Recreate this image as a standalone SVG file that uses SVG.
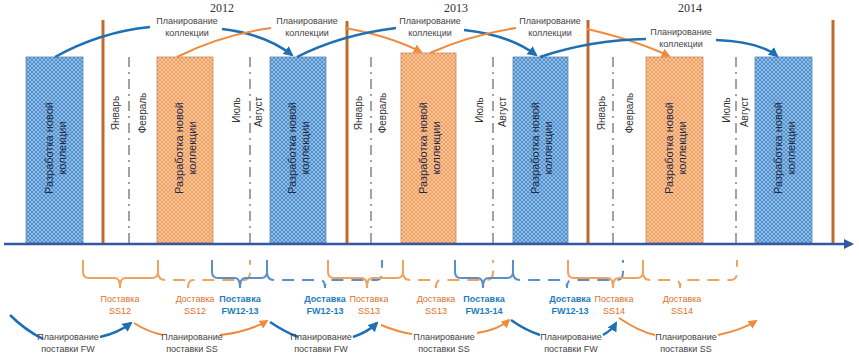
<svg xmlns="http://www.w3.org/2000/svg" width="859" height="357" viewBox="0 0 859 357">
<style>
.yr{font-family:"Liberation Serif",serif;font-size:12px;fill:#333;text-anchor:middle}
.pl{font-family:"Liberation Sans",Arial,sans-serif;font-size:9px;fill:#444;text-anchor:middle}
.mo{font-family:"Liberation Sans",Arial,sans-serif;font-size:10px;fill:#333;text-anchor:middle}
.rt{font-family:"Liberation Sans",Arial,sans-serif;font-size:11px;fill:#1c2a48;text-anchor:middle}
.lb{font-family:"Liberation Sans",Arial,sans-serif;font-size:9px;text-anchor:middle}
.ss{fill:#e0702a}
.fw{fill:#1a7cc0;font-weight:bold}
.rb{fill:url(#hb);stroke:#5f87b3;stroke-width:0.8}
.ro{fill:url(#ho);stroke:#c08a66;stroke-width:0.8}
.br{stroke:#bf6a2c;stroke-width:3;fill:none}
.dd{stroke:#444;stroke-width:1;stroke-dasharray:10 5 2 5;fill:none}
.ab{stroke:#1f6fb5;stroke-width:2.5;fill:none}
.ao{stroke:#f08a3c;stroke-width:2;fill:none}
.bo{stroke:#f0a35e;stroke-width:2;fill:none}
.bb{stroke:#5b8ec6;stroke-width:2;fill:none}
.dash{stroke-dasharray:12 8}
</style>
<defs>
<pattern id="hb" width="4" height="4" patternUnits="userSpaceOnUse"><rect width="4" height="4" fill="#8fbde6"/><path d="M0,0 L4,4 M4,0 L0,4" stroke="#4a8bc9" stroke-width="0.9"/></pattern>
<pattern id="ho" width="4" height="4" patternUnits="userSpaceOnUse"><rect width="4" height="4" fill="#fcc79b"/><path d="M0,0 L4,4 M4,0 L0,4" stroke="#f2985a" stroke-width="0.9"/></pattern>
<marker id="mb" viewBox="0 0 10 10" refX="8" refY="5" markerWidth="4" markerHeight="4" orient="auto"><path d="M0,0 L10,5 L0,10 z" fill="#1f6fb5"/></marker>
<marker id="mo" viewBox="0 0 10 10" refX="8" refY="5" markerWidth="4.5" markerHeight="4.5" orient="auto"><path d="M0,0 L10,5 L0,10 z" fill="#f08a3c"/></marker>
<marker id="ma" viewBox="0 0 10 10" refX="8" refY="5" markerWidth="4" markerHeight="4" orient="auto"><path d="M0,0 L10,5 L0,10 z" fill="#3556a3"/></marker>
</defs>
<rect width="859" height="357" fill="#ffffff"/>

<g id="years">
<text class="yr" x="222" y="12">2012</text>
<text class="yr" x="456" y="12">2013</text>
<text class="yr" x="690" y="12">2014</text>
</g>

<g id="dividers">
<line class="br" x1="103" y1="20" x2="103" y2="243"/>
<line class="br" x1="347" y1="21" x2="347" y2="243"/>
<line class="br" x1="588" y1="20" x2="588" y2="243"/>
<line class="br" x1="833" y1="20" x2="833" y2="243"/>
<line class="dd" x1="129" y1="57" x2="129" y2="243"/>
<line class="dd" x1="250" y1="57" x2="250" y2="243"/>
<line class="dd" x1="371" y1="57" x2="371" y2="243"/>
<line class="dd" x1="493" y1="57" x2="493" y2="243"/>
<line class="dd" x1="613" y1="57" x2="613" y2="243"/>
<line class="dd" x1="736" y1="57" x2="736" y2="243"/>
</g>

<g id="months">
<text class="mo" transform="translate(119,113) rotate(-90)">Январь</text>
<text class="mo" transform="translate(146,113) rotate(-90)">Февраль</text>
<text class="mo" transform="translate(240,110) rotate(-90)">Июль</text>
<text class="mo" transform="translate(262,112) rotate(-90)">Август</text>
<text class="mo" transform="translate(362,113) rotate(-90)">Январь</text>
<text class="mo" transform="translate(386,113) rotate(-90)">Февраль</text>
<text class="mo" transform="translate(483,110) rotate(-90)">Июль</text>
<text class="mo" transform="translate(506,112) rotate(-90)">Август</text>
<text class="mo" transform="translate(605,113) rotate(-90)">Январь</text>
<text class="mo" transform="translate(633,113) rotate(-90)">Февраль</text>
<text class="mo" transform="translate(730,110) rotate(-90)">Июль</text>
<text class="mo" transform="translate(748,112) rotate(-90)">Август</text>
</g>

<g id="dev1"><rect class="rb" x="26" y="57" width="57" height="186"/><text class="rt" transform="translate(54.5,148) rotate(-90)"><tspan x="0" y="-2">Разработка новой</tspan><tspan x="0" y="11">коллекции</tspan></text></g>
<g id="dev2"><rect class="ro" x="157" y="57" width="56" height="186"/><text class="rt" transform="translate(185,148) rotate(-90)"><tspan x="0" y="-2">Разработка новой</tspan><tspan x="0" y="11">коллекции</tspan></text></g>
<g id="dev3"><rect class="rb" x="270" y="57" width="56" height="186"/><text class="rt" transform="translate(298,148) rotate(-90)"><tspan x="0" y="-2">Разработка новой</tspan><tspan x="0" y="11">коллекции</tspan></text></g>
<g id="dev4"><rect class="ro" x="401" y="53" width="55" height="190"/><text class="rt" transform="translate(428.5,148) rotate(-90)"><tspan x="0" y="-2">Разработка новой</tspan><tspan x="0" y="11">коллекции</tspan></text></g>
<g id="dev5"><rect class="rb" x="513" y="57" width="55" height="186"/><text class="rt" transform="translate(540.5,148) rotate(-90)"><tspan x="0" y="-2">Разработка новой</tspan><tspan x="0" y="11">коллекции</tspan></text></g>
<g id="dev6"><rect class="ro" x="646" y="57" width="57" height="186"/><text class="rt" transform="translate(674.5,148) rotate(-90)"><tspan x="0" y="-2">Разработка новой</tspan><tspan x="0" y="11">коллекции</tspan></text></g>
<g id="dev7"><rect class="rb" x="755" y="57" width="57" height="186"/><text class="rt" transform="translate(783.5,148) rotate(-90)"><tspan x="0" y="-2">Разработка новой</tspan><tspan x="0" y="11">коллекции</tspan></text></g>

<g id="plan-labels">
<text class="pl" x="187" y="24">Планирование</text><text class="pl" x="187" y="36">коллекции</text>
<text class="pl" x="307" y="24">Планирование</text><text class="pl" x="307" y="36">коллекции</text>
<text class="pl" x="430" y="24">Планирование</text><text class="pl" x="430" y="36">коллекции</text>
<text class="pl" x="550" y="24">Планирование</text><text class="pl" x="550" y="36">коллекции</text>
<text class="pl" x="681" y="35">Планирование</text><text class="pl" x="681" y="47">коллекции</text>
</g>

<g id="connectors">
<line x1="4" y1="244" x2="852" y2="244" stroke="#3556a3" stroke-width="2.5" marker-end="url(#ma)"/>
<path class="ab" d="M55,57 Q100,32 150,27"/>
<path class="ab" d="M222,29 Q265,34 292,55" marker-end="url(#mb)"/>
<path class="ao" d="M177,57 Q220,35 271,28"/>
<path class="ao" d="M345,28 Q390,36 421,52" marker-end="url(#mo)"/>
<path class="ab" d="M297,57 Q340,35 396,28"/>
<path class="ab" d="M464,30 Q510,35 536,55" marker-end="url(#mb)"/>
<path class="ao" d="M430,53 Q470,35 516,28"/>
<path class="ao" d="M587,29 Q635,40 669,56" marker-end="url(#mo)"/>
<path class="ab" d="M540,57 Q590,40 646,39"/>
<path class="ab" d="M716,40 Q760,42 777,56" marker-end="url(#mb)"/>

<path class="bo" d="M83,260 V272 Q83,278 89,278 H115 Q120,278 120,288 Q120,278 125,278 H152 Q158,278 158,272 V260"/>
<path class="bo dash" d="M158,272 Q158,280 165,280 H183 Q188,280 188,288 Q188,280 193,280 H244 Q250,280 250,272 V260"/>
<path class="bb" d="M212,260 V272 Q212,278 218,278 H235 Q240,278 240,288 Q240,278 245,278 H261 Q267,278 267,272 V260"/>
<path class="bb dash" d="M267,272 Q267,280 274,280 H320 Q325,280 325,288 Q325,280 330,280 H376 Q382,280 382,272 V260"/>
<path class="bo" d="M328,260 V272 Q328,278 334,278 H362 Q367,278 367,288 Q367,278 372,278 H397 Q403,278 403,272 V260"/>
<path class="bo dash" d="M403,272 Q403,280 410,280 H431 Q436,280 436,288 Q436,280 441,280 H487 Q493,280 493,272 V260"/>
<path class="bb" d="M455,260 V272 Q455,278 461,278 H478 Q483,278 483,288 Q483,278 488,278 H507 Q513,278 513,272 V260"/>
<path class="bb dash" d="M513,272 Q513,280 520,280 H562 Q567,280 567,288 Q567,280 572,280 H617 Q623,280 623,272 V260"/>
<path class="bo" d="M568,260 V272 Q568,278 574,278 H608 Q613,278 613,288 Q613,278 618,278 H637 Q643,278 643,272 V260"/>
<path class="bo dash" d="M643,272 Q643,280 650,280 H675 Q680,280 680,288 Q680,280 685,280 H731 Q737,280 737,272 V260"/>

<path class="ab" d="M10,315 Q25,330 43,339"/>
<path class="ab" d="M100,337 Q118,333 131,323" marker-end="url(#mb)"/>
<path class="ao" d="M134,323 Q148,332 163,335"/>
<path class="ao" d="M220,335 Q248,332 267,321" marker-end="url(#mo)"/>
<path class="ab" d="M270,322 Q285,332 298,337"/>
<path class="ab" d="M353,337 Q368,332 377,323" marker-end="url(#mb)"/>
<path class="ao" d="M381,325 Q398,332 412,334"/>
<path class="ao" d="M477,333 Q498,330 509,320" marker-end="url(#mo)"/>
<path class="ab" d="M511,320 Q525,330 540,335"/>
<path class="ab" d="M603,335 Q612,330 616,323" marker-end="url(#mb)"/>
<path class="ao" d="M619,318 Q640,332 655,335"/>
<path class="ao" d="M718,335 Q742,330 756,321" marker-end="url(#mo)"/>
</g>

<g id="supply-labels">
<text class="lb ss" x="120" y="302">Поставка</text><text class="lb ss" x="120" y="314">SS12</text>
<text class="lb ss" x="195" y="302">Доставка</text><text class="lb ss" x="195" y="314">SS12</text>
<text class="lb fw" x="240" y="302">Поставка</text><text class="lb fw" x="240" y="314">FW12-13</text>
<text class="lb fw" x="325" y="302">Доставка</text><text class="lb fw" x="325" y="314">FW12-13</text>
<text class="lb ss" x="369" y="302">Поставка</text><text class="lb ss" x="369" y="314">SS13</text>
<text class="lb ss" x="436" y="302">Доставка</text><text class="lb ss" x="436" y="314">SS13</text>
<text class="lb fw" x="484" y="302">Поставка</text><text class="lb fw" x="484" y="314">FW13-14</text>
<text class="lb fw" x="570" y="302">Доставка</text><text class="lb fw" x="570" y="314">FW12-13</text>
<text class="lb ss" x="614" y="302">Поставка</text><text class="lb ss" x="614" y="314">SS14</text>
<text class="lb ss" x="682" y="302">Доставка</text><text class="lb ss" x="682" y="314">SS14</text>
</g>

<g id="plan-supply-labels">
<text class="pl" x="68" y="340">Планирование</text><text class="pl" x="68" y="352">поставки FW</text>
<text class="pl" x="192" y="340">Планирование</text><text class="pl" x="192" y="352">поставки SS</text>
<text class="pl" x="321" y="340">Планирование</text><text class="pl" x="321" y="352">поставки FW</text>
<text class="pl" x="444" y="340">Планирование</text><text class="pl" x="444" y="352">поставки SS</text>
<text class="pl" x="571" y="340">Планирование</text><text class="pl" x="571" y="352">поставки FW</text>
<text class="pl" x="686" y="340">Планирование</text><text class="pl" x="686" y="352">поставки SS</text>
</g>
</svg>
